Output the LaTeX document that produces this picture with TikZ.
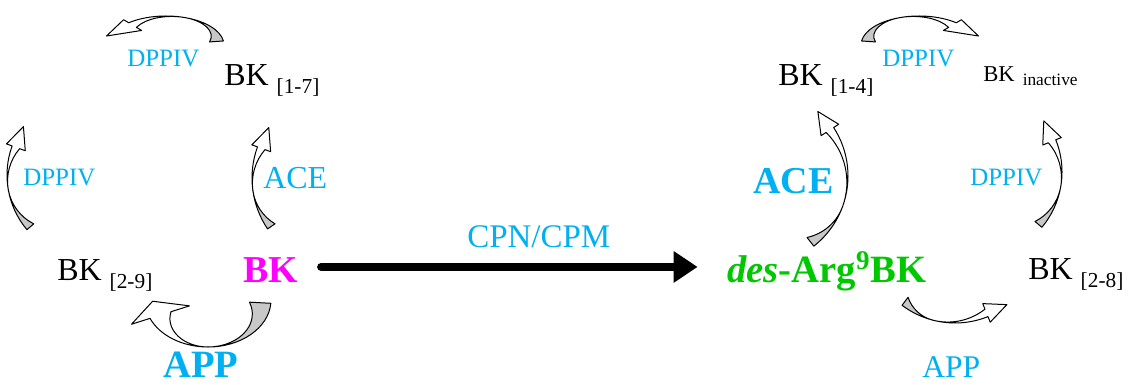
\documentclass[tikz,border=0pt]{standalone}
\usepackage{fontspec}
\setmainfont{Liberation Serif}
\usetikzlibrary{arrows.meta}
\definecolor{enz}{RGB}{0,176,240}
\definecolor{bkmag}{RGB}{255,0,255}
\definecolor{desgreen}{RGB}{0,200,0}
\definecolor{ribfill}{RGB}{200,200,200}
\newcommand\pepsub[1]{\raisebox{-6pt}{\fontsize{16}{16}\selectfont #1}}
\pgfkeys{/carrow/.is family}
\pgfkeys{/carrow/.cd,
  cx/.store in=\CAcx, cy/.store in=\CAcy, sx/.store in=\CAsx, sy/.store in=\CAsy,
  R/.store in=\CAR, a0/.store in=\CAa, am/.store in=\CAm, a1/.store in=\CAb,
  w0/.store in=\CAw, w1/.store in=\CAv, h/.store in=\CAh, L/.store in=\CAL}
\newcommand\ribbonarrow[1]{%
  \pgfkeys{/carrow/.cd, sx=1, sy=1, h=5, L=20, #1}%
  \pgfmathsetmacro\Px{\CAR*cos(\CAm)}%
  \pgfmathsetmacro\Py{\CAR*sin(\CAm)}%
  \pgfmathsetmacro\Tox{\CAR*cos(\CAa)}%
  \pgfmathsetmacro\Toy{\CAR*sin(\CAa)}%
  \pgfmathsetmacro\Tix{(\CAR-\CAw)*cos(\CAa)}%
  \pgfmathsetmacro\Tiy{(\CAR-\CAw)*sin(\CAa)}%
  \pgfmathsetmacro\dX{\Px-\Tix}%
  \pgfmathsetmacro\dY{\Py-\Tiy}%
  \pgfmathsetmacro\rT{(\dX*\dX+\dY*\dY)/(2*(cos(\CAm)*\dX+sin(\CAm)*\dY))}%
  \pgfmathsetmacro\Ix{\Px-\rT*cos(\CAm)}%
  \pgfmathsetmacro\Iy{\Py-\rT*sin(\CAm)}%
  \pgfmathsetmacro\aT{atan2(\Tiy-\Iy,\Tix-\Ix)}%
  \pgfmathsetmacro\aT{\CAm+mod(\aT-\CAm+900,360)-180}%
  \pgfmathsetmacro\Bpx{\CAR*cos(\CAb)}%
  \pgfmathsetmacro\Bpy{\CAR*sin(\CAb)}%
  \pgfmathsetmacro\Bix{(\CAR-\CAv)*cos(\CAb)}%
  \pgfmathsetmacro\Biy{(\CAR-\CAv)*sin(\CAb)}%
  \pgfmathsetmacro\eX{\Px-\Bix}%
  \pgfmathsetmacro\eY{\Py-\Biy}%
  \pgfmathsetmacro\rB{(\eX*\eX+\eY*\eY)/(2*(cos(\CAm)*\eX+sin(\CAm)*\eY))}%
  \pgfmathsetmacro\Jx{\Px-\rB*cos(\CAm)}%
  \pgfmathsetmacro\Jy{\Py-\rB*sin(\CAm)}%
  \pgfmathsetmacro\aB{atan2(\Biy-\Jy,\Bix-\Jx)}%
  \pgfmathsetmacro\aB{\CAm+mod(\aB-\CAm+900,360)-180}%
  \pgfmathsetmacro\gX{\Bpx-\Bix}%
  \pgfmathsetmacro\gY{\Bpy-\Biy}%
  \pgfmathsetmacro\gL{sqrt(\gX*\gX+\gY*\gY)}%
  \pgfmathsetmacro\ux{\gX/\gL}%
  \pgfmathsetmacro\uy{\gY/\gL}%
  \pgfmathsetmacro\sgn{(\CAb>\CAm)?1:-1}%
  \pgfmathsetmacro\tx{0-(\sgn)*sin(\CAb)}%
  \pgfmathsetmacro\ty{(\sgn)*cos(\CAb)}%
  \pgfmathsetmacro\nx{0-(\uy)}%
  \pgfmathsetmacro\ny{\ux}%
  \pgfmathsetmacro\nsg{((\nx)*(\tx)+(\ny)*(\ty)<0)?-1:1}%
  \pgfmathsetmacro\Tpx{(\Bpx+\Bix)/2+\CAL*(\nsg)*(\nx)}%
  \pgfmathsetmacro\Tpy{(\Bpy+\Biy)/2+\CAL*(\nsg)*(\ny)}%
  \pgfmathsetmacro\Wox{\Bpx+\CAh*(\ux)}%
  \pgfmathsetmacro\Woy{\Bpy+\CAh*(\uy)}%
  \pgfmathsetmacro\Wix{\Bix-\CAh*(\ux)}%
  \pgfmathsetmacro\Wiy{\Biy-\CAh*(\uy)}%
  \begin{scope}[shift={(\CAcx,\CAcy)},xscale=\CAsx,yscale=\CAsy]
    \filldraw[ribgrey] (\Tox,\Toy) arc[start angle=\CAa,end angle=\CAm,radius=\CAR]
      arc[start angle=\CAm,end angle=\aT,radius=\rT] -- cycle;
    \filldraw[ribwhite] (\Px,\Py) arc[start angle=\CAm,end angle=\CAb,radius=\CAR]
      -- (\Wox,\Woy) -- (\Tpx,\Tpy) -- (\Wix,\Wiy) -- (\Bix,\Biy)
      arc[start angle=\aB,end angle=\CAm,radius=\rB] -- cycle;
  \end{scope}%
}
\tikzset{
  ribgrey/.style={fill=ribfill, draw=black, line width=0.75pt, line join=round},
  ribwhite/.style={fill=white, draw=black, line width=0.75pt, line join=round},
  lbl/.style={anchor=base west, inner sep=0pt},
  enzS/.style={lbl, text=enz, font=\fontsize{18.75}{20}\selectfont},
  pep/.style={lbl, font=\fontsize{24}{26}\selectfont},
  bigarrow/.style={line width=6pt, line cap=round, -{Triangle[length=18pt,width=22.5pt]}},
}
\begin{document}
\begin{tikzpicture}[x=0.75pt,y=-0.75pt]
\path[use as bounding box] (0,0) rectangle (1132,385);
% labels
\node[enzS] (dppivA) at (127,67) {DPPIV};
\node[pep] (bk17) at (224,85) {BK \pepsub{[1-7]}};
\node[enzS] (dppivB) at (23,185) {DPPIV};
\node[lbl, text=enz, font=\fontsize{24}{26}\selectfont] (aceA) at (263,188) {ACE};
\node[pep] (bk29) at (57,280) {BK \pepsub{[2-9]}};
\node[lbl, text=bkmag, font=\fontsize{28.5}{30}\selectfont\bfseries] (bk) at (243,282) {BK};
\node[lbl, text=enz, font=\fontsize{29}{30}\selectfont\bfseries] (appA) at (163,377) {APP};
\node[lbl, text=enz, font=\fontsize{24.75}{26}\selectfont] (cpn) at (467,247) {CPN/CPM};
\node[pep] (bk14) at (778,85) {BK \pepsub{[1-4]}};
\node[enzS] (dppivC) at (882,67) {DPPIV};
\node[lbl, font=\fontsize{17}{18}\selectfont] (bkin) at (983,82) {BK\hspace{6pt}\raisebox{-3pt}{\fontsize{13}{14}\selectfont inactive}};
\node[lbl, text=enz, font=\fontsize{28.5}{30}\selectfont\bfseries] (aceB) at (753,193) {ACE};
\node[enzS] (dppivD) at (970,185) {DPPIV};
\node[lbl, text=desgreen, font=\fontsize{29}{30}\selectfont\bfseries] (des) at (727,282) {\textit{des}-Arg\textsuperscript{9}BK};
\node[pep] (bk28) at (1028,279) {BK \pepsub{[2-8]}};
\node[lbl, text=enz, font=\fontsize{23.7}{25}\selectfont] (appB) at (922,377) {APP};
% main conversion arrow
\draw[bigarrow] ([xshift=17pt,yshift=2pt]bk.east) -- ([xshift=-22pt,yshift=2pt]bk.east -| des.west);
% curved ribbon arrows
\ribbonarrow{cx=166, cy=45, sx=2.0, R=29, a0=-8, am=-72, a1=-130, w0=7, w1=6, h=4, L=17}
\ribbonarrow{cx=919, cy=45, sx=2.0, R=29, a0=-172, am=-108, a1=-50, w0=7, w1=6, h=4, L=17}
\ribbonarrow{cx=92, cy=175, R=85, a0=140, am=170, a1=200, w0=9, w1=8, h=6, L=22}
\ribbonarrow{cx=343, cy=178, R=91, a0=146, am=172, a1=200, w0=9, w1=8, h=6, L=22}
\ribbonarrow{cx=759, cy=176, R=89, a0=52, am=20, a1=-33, w0=11, w1=9, h=6, L=22}
\ribbonarrow{cx=976, cy=172, R=86, a0=40, am=10, a1=-22, w0=9, w1=8, h=6, L=22}
\ribbonarrow{cx=955, cy=235, R=88, a0=127, am=105, a1=68, w0=10, w1=8, h=6, L=22}
\ribbonarrow{cx=208, cy=300, sx=1.34, R=47, a0=4, am=90, a1=157, w0=16, w1=17, h=15, L=15}
\end{tikzpicture}
\end{document}
